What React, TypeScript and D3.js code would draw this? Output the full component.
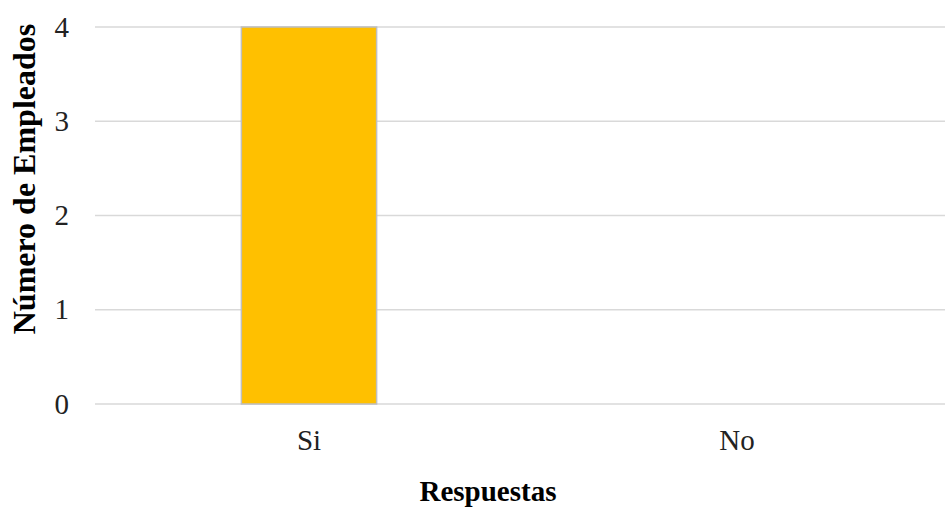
import React from "react";
import * as d3 from "d3";

const categories: string[] = ["Si", "No"];
const values: number[] = [4, 0];
const yTicks: number[] = [0, 1, 2, 3, 4];

const W = 945;
const H = 508;
const left = 95;
const right = 951;
const top = 27;
const bottom = 404;

export default function App() {
  const x = d3.scaleBand<string>().domain(categories).range([left, right]).paddingInner(0).paddingOuter(0);
  const y = d3.scaleLinear().domain([0, 4]).range([bottom, top]);
  const barW = x.bandwidth() * 0.316;
  const font = "'Liberation Serif', 'Times New Roman', serif";
  return (
    <svg width={W} height={H} style={{ position: "absolute", left: 0, top: 0, background: "#fff" }}>
      {yTicks.map((t) => (
        <g key={t}>
          <line x1={left} x2={W} y1={y(t)} y2={y(t)} stroke="#d9d9d9" strokeWidth={1.5} />
          <text x={69} y={y(t)} dy="0.33em" textAnchor="end" fontFamily={font} fontSize={29} fill="#222">
            {t}
          </text>
        </g>
      ))}
      {categories.map((c, i) =>
        values[i] > 0 ? (
          <rect
            key={c}
            x={(x(c) as number) + x.bandwidth() / 2 - barW / 2}
            y={y(values[i])}
            width={barW}
            height={y(0) - y(values[i])}
            fill="#ffc000"
            stroke="#bfbfbf"
            strokeWidth={1.5}
          />
        ) : null
      )}
      {categories.map((c) => (
        <text key={c} x={(x(c) as number) + x.bandwidth() / 2} y={450} textAnchor="middle" fontFamily={font} fontSize={29} fill="#222">
          {c}
        </text>
      ))}
      <text x={488} y={501} textAnchor="middle" fontFamily={font} fontSize={29} fontWeight="bold" fill="#000">
        Respuestas
      </text>
      <text
        transform={`translate(35, 179) rotate(-90)`}
        textAnchor="middle"
        fontFamily={font}
        fontSize={32}
        fontWeight="bold"
        fill="#000"
      >
        Número de Empleados
      </text>
    </svg>
  );
}
